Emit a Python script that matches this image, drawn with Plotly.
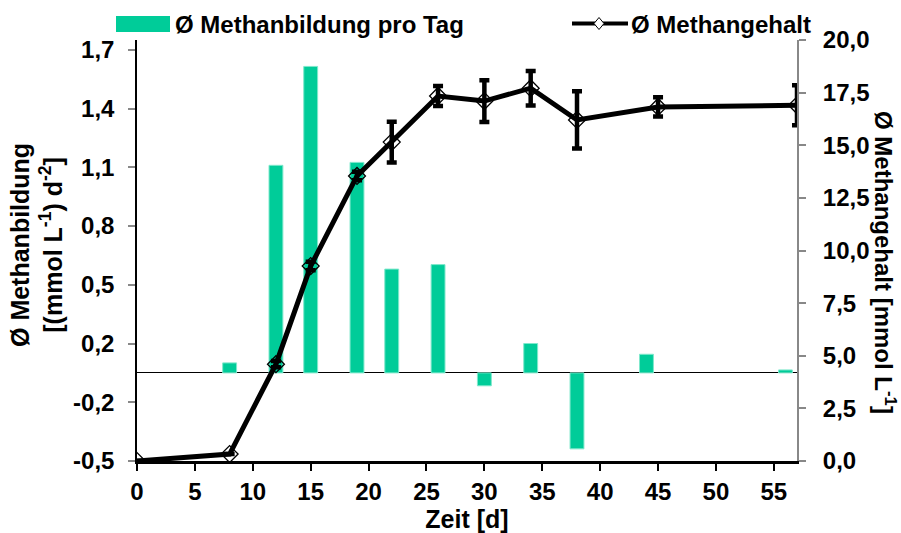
import plotly.graph_objects as go

# Tägliche Methanbildung (Balken, linke Achse)
bar_days = [8, 12, 15, 19, 22, 26, 30, 34, 38, 44, 56]
bar_values = [0.051, 1.06, 1.565, 1.075, 0.53, 0.553, -0.066, 0.15, -0.388, 0.095, 0.015]

# Methangehalt (Linie, rechte Achse)
line_days = [0, 8, 12, 15, 19, 22, 26, 30, 34, 38, 45, 57]
line_values = [0.0, 0.33, 4.6, 9.26, 13.54, 15.15, 17.34, 17.1, 17.71, 16.2, 16.82, 16.9]
line_errors = [0.0, 0.0, 0.15, 0.2, 0.2, 0.97, 0.47, 0.99, 0.82, 1.36, 0.46, 0.95]

left_tick_vals = [-0.45, -0.15, 0.15, 0.45, 0.75, 1.05, 1.35, 1.65]
left_tick_labels = ["-0,5", "-0,2", "0,2", "0,5", "0,8", "1,1", "1,4", "1,7"]

FONT = "Liberation Sans, Arial, sans-serif"
GREEN = "#00CC99"

# plot area in pixels
L, R, T, B = 137, 797, 40, 461


def px_x(p):
    return (p - L) / (R - L)


def px_y(p):
    return (B - p) / (B - T)


fig = go.Figure()
fig.add_trace(
    go.Bar(
        x=bar_days,
        y=bar_values,
        width=1.2,
        marker=dict(color=GREEN, line=dict(color="#7FE8CC", width=1)),
        showlegend=False,
        yaxis="y",
    )
)
fig.add_trace(
    go.Scatter(
        x=line_days,
        y=line_values,
        mode="lines+markers",
        line=dict(color="black", width=5),
        marker=dict(symbol="diamond-open", size=13, color="black", line=dict(color="black", width=1.3)),
        error_y=dict(type="data", array=line_errors, visible=True, color="black", thickness=4.5, width=5),
        showlegend=False,
        yaxis="y2",
    )
)

fig.update_layout(
    width=901,
    height=533,
    separators=",.",
    paper_bgcolor="white",
    plot_bgcolor="white",
    font=dict(family=FONT, size=22, color="black", weight="bold"),
    margin=dict(l=L, r=901 - R, t=T, b=533 - B, pad=0),
    xaxis=dict(
        range=[0, 57],
        tick0=0,
        dtick=5,
        showgrid=False,
        zeroline=False,
        showline=True,
        linecolor="black",
        linewidth=2.5,
        ticks="outside",
        ticklen=7,
        tickwidth=1.5,
        tickcolor="black",
        tickfont=dict(size=24, family=FONT, weight="bold"),
        title=dict(text="Zeit [d]", font=dict(size=25, family=FONT, weight="bold"), standoff=0),
    ),
    yaxis=dict(
        range=[-0.45, 1.7],
        tickvals=left_tick_vals,
        ticktext=left_tick_labels,
        showgrid=False,
        zeroline=True,
        zerolinecolor="black",
        zerolinewidth=1.2,
        showline=True,
        linecolor="black",
        linewidth=1.5,
        ticks="outside",
        ticklen=7,
        tickwidth=1.5,
        tickcolor="#888888",
        ticklabelstandoff=9,
        tickfont=dict(size=24, family=FONT, weight="bold"),
    ),
    yaxis2=dict(
        range=[0, 20],
        dtick=2.5,
        tickformat=".1f",
        overlaying="y",
        side="right",
        showgrid=False,
        zeroline=False,
        showline=True,
        linecolor="#888888",
        linewidth=2,
        ticks="outside",
        ticklen=7,
        tickwidth=1.5,
        tickcolor="#888888",
        ticklabelstandoff=12,
        tickfont=dict(size=24, family=FONT, weight="bold"),
    ),
    annotations=[
        dict(
            text="Ø Methanbildung<br>[(mmol L<sup>-1</sup>) d<sup>-2</sup>]",
            xref="paper", yref="paper", x=0, y=px_y(245), xshift=37 - L,
            xanchor="center", yanchor="middle", textangle=-90, showarrow=False,
            font=dict(size=25, family=FONT, weight="bold"),
        ),
        dict(
            text="Ø Methangehalt [mmol L<sup>-1</sup>]",
            xref="paper", yref="paper", x=1, y=px_y(262), xshift=885 - R,
            xanchor="center", yanchor="middle", textangle=90, showarrow=False,
            font=dict(size=24, family=FONT, weight="bold"),
        ),
        dict(
            text="Ø Methanbildung pro Tag",
            xref="paper", yref="paper", x=px_x(173), y=px_y(24),
            xanchor="left", yanchor="middle", showarrow=False,
            font=dict(size=24, family=FONT, weight="bold"),
        ),
        dict(
            text="Ø Methangehalt",
            xref="paper", yref="paper", x=px_x(629), y=px_y(24),
            xanchor="left", yanchor="middle", showarrow=False,
            font=dict(size=24, family=FONT, weight="bold"),
        ),
    ],
    shapes=[
        dict(type="rect", xref="paper", yref="paper",
             x0=px_x(116), x1=px_x(170), y0=px_y(32), y1=px_y(16),
             fillcolor=GREEN, line=dict(width=0)),
        dict(type="line", xref="paper", yref="paper",
             x0=px_x(572), x1=px_x(628), y0=px_y(23.5), y1=px_y(23.5),
             line=dict(color="black", width=4)),
        dict(type="path", xref="paper", yref="paper",
             xsizemode="pixel", ysizemode="pixel",
             xanchor=px_x(599), yanchor=px_y(23.5),
             path="M -5 0 L 0 6 L 5 0 L 0 -6 Z",
             fillcolor="white", line=dict(color="black", width=1)),
    ],
)

fig.write_html(
    "out.html",
    config={"displayModeBar": False},
    post_script="document.body.style.margin='0';",
)
